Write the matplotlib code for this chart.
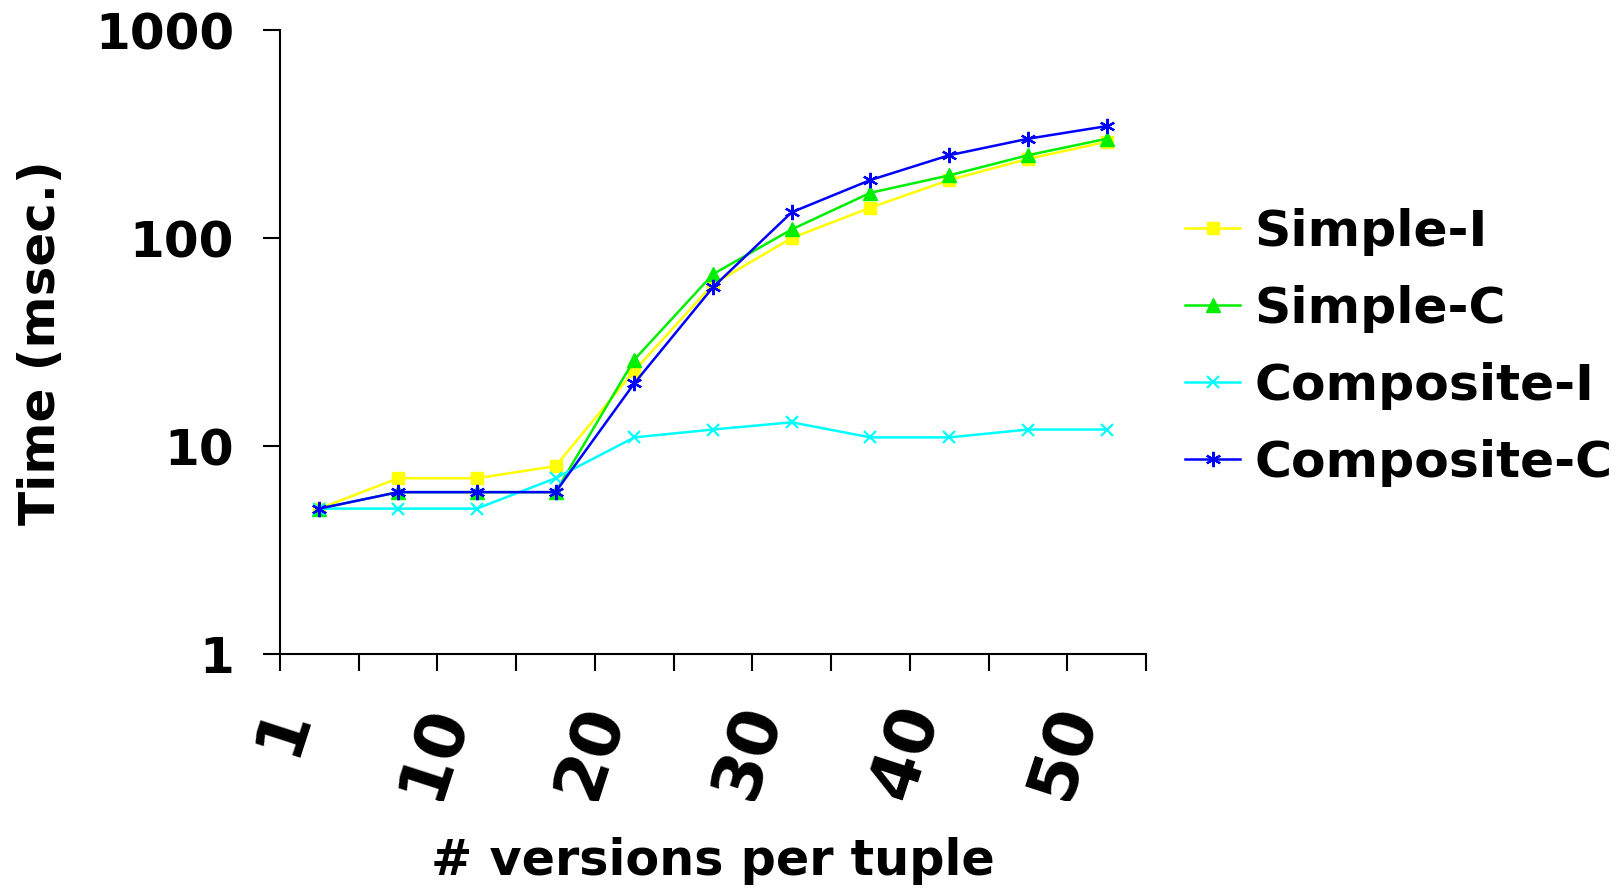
import matplotlib
matplotlib.use("Agg")
import matplotlib.pyplot as plt
import matplotlib.transforms as mtransforms
import numpy as np

# versions per tuple (one category per sample point)
versions = [1, 5, 10, 15, 20, 25, 30, 35, 40, 45, 50]
tick_labels = ["1", "10", "20", "30", "40", "50"]
labelled_versions = [1, 10, 20, 30, 40, 50]

# query time in msec.
simple_i = [5, 7, 7, 8, 23, 60, 100, 140, 190, 240, 290]
simple_c = [5, 6, 6, 6, 26, 67, 110, 165, 200, 250, 300]
composite_i = [5, 5, 5, 7, 11, 12, 13, 11, 11, 12, 12]
composite_c = [5, 6, 6, 6, 20, 58, 133, 190, 250, 300, 345]

series_names = ["Simple-I", "Simple-C", "Composite-I", "Composite-C"]
series_colors = ["#FFFF00", "#00EE00", "#00FFFF", "#0000FF"]

plt.rcParams["font.family"] = ["DejaVu Sans"]
plt.rcParams["font.weight"] = "bold"

W, H = 1623, 893
fig = plt.figure(figsize=(W / 100, H / 100), dpi=100)
ax = fig.add_axes([280 / W, 1 - 654 / H, (1146 - 280) / W, (654 - 30) / H])

x = np.arange(len(versions))
styles = [
    dict(marker="s", markersize=8.5),
    dict(marker="^", markersize=9.5),
    dict(marker="x", markersize=9, markeredgewidth=1.6),
    dict(marker=(6, 2, 0), markersize=11, markeredgewidth=1.6),
]
for vals, name, col, st in zip([simple_i, simple_c, composite_i, composite_c],
                               series_names, series_colors, styles):
    ax.plot(x, vals, color=col, linewidth=1.8, label=name,
            markerfacecolor=col, markeredgecolor=col, **st)

ax.set_yscale("log")
ax.set_ylim(1, 1000)
ax.set_xlim(-0.5, len(versions) - 0.5)
ax.set_yticks([1, 10, 100, 1000])
ax.set_yticklabels(["1", "10", "100", "1000"])
ax.yaxis.set_minor_locator(matplotlib.ticker.NullLocator())
ax.set_xticks(np.arange(len(versions) + 1) - 0.5)
ax.set_xticklabels([])

for s in ["top", "right"]:
    ax.spines[s].set_visible(False)
for s in ["left", "bottom"]:
    ax.spines[s].set_linewidth(1.5)
    ax.spines[s].set_color("black")

ax.tick_params(axis="y", which="major", direction="out", length=12, width=1.5,
               pad=21, labelsize=36)
ax.tick_params(axis="x", which="major", direction="out", length=12, width=1.5)
for lbl in ax.get_yticklabels():
    lbl.set_fontweight("bold")

# rotated category labels, cut off at the lower edge of the label band
blend = mtransforms.blended_transform_factory(ax.transData, fig.transFigure)
clip = mtransforms.TransformedBbox(
    mtransforms.Bbox.from_extents(0, 92 / H, 1, 1), fig.transFigure)
for v, lab in zip(labelled_versions, tick_labels):
    xi = versions.index(v)
    t = fig.text(xi - 0.37, 1 - 707 / H, lab, transform=blend, rotation=72,
                 rotation_mode="anchor", ha="right", va="center",
                 fontsize=49, fontweight="bold")
    t.set_clip_box(clip)
    t.set_clip_on(True)

fig.text(41 / W, 1 - 343 / H, "Time (msec.)", rotation=90, ha="center",
         va="center", fontsize=36, fontweight="bold")
fig.text(713 / W, 1 - 875 / H, "# versions per tuple", ha="center",
         va="baseline", fontsize=35.5, fontweight="bold")

leg = ax.legend(loc="upper left", bbox_to_anchor=(1185 / W, 1 - 208 / H),
                bbox_transform=fig.transFigure, frameon=False, borderpad=0,
                borderaxespad=0, handlelength=1.1, handletextpad=0.28,
                labelspacing=0.575, prop=dict(size=36.3, weight="bold"))
for h in leg.get_lines():
    h.set_linewidth(1.8)

fig.savefig("out.png", dpi=100)
